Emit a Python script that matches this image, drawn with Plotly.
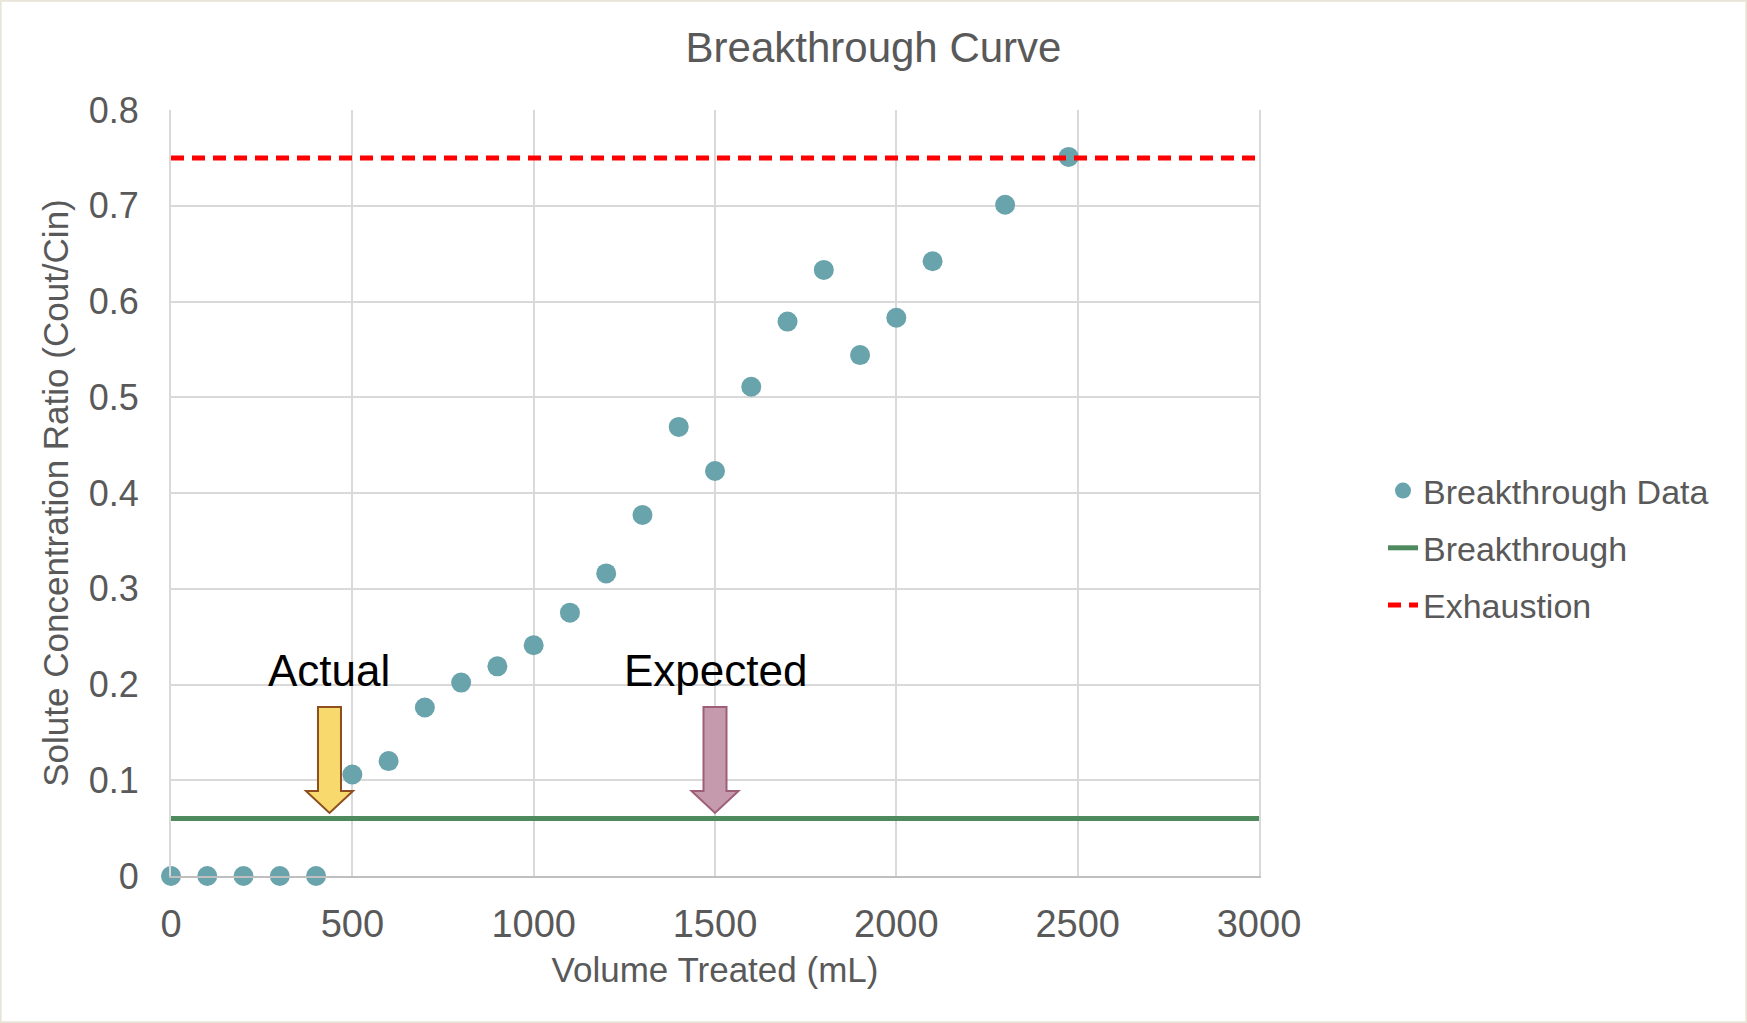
import plotly.graph_objects as go

# ---- data ----
volume_ml = [0, 100, 200, 300, 400, 500, 600, 700, 800, 900, 1000, 1100, 1200,
             1300, 1400, 1500, 1600, 1700, 1800, 1900, 2000, 2100, 2300, 2475]
conc_ratio = [0, 0, 0, 0, 0, 0.106, 0.120, 0.176, 0.202, 0.219, 0.241, 0.275, 0.316,
              0.377, 0.469, 0.423, 0.511, 0.579, 0.633, 0.544, 0.583, 0.642, 0.701, 0.751]
breakthrough_level = 0.06
exhaustion_level = 0.75
line_x = [0, 3000]
arrow_labels = ["Actual", "Expected"]
arrow_x = [437, 1500]
arrow_tip_y = 0.0658
arrow_top_y = 0.1765
label_y = 0.215
arrow_fill = ["#F7D96E", "#C49AAC"]
arrow_edge = ["#8E4E1F", "#9E5E78"]
x_ticks = [0, 500, 1000, 1500, 2000, 2500, 3000]
y_ticks = [0, 0.1, 0.2, 0.3, 0.4, 0.5, 0.6, 0.7, 0.8]

# ---- layout geometry ----
W, H = 1747, 1023
ML, MR, MT, MB = 171, 488, 110, 147
PW, PH = W - ML - MR, H - MT - MB
XMAX, YMAX = 3000, 0.8
dxp = XMAX / PW
dyp = YMAX / PH

FONT = "Liberation Sans, Arial, sans-serif"
GREY = "#595959"

fig = go.Figure()
fig.add_trace(go.Scatter(x=volume_ml, y=conc_ratio, mode="markers", name="Breakthrough Data",
                         marker=dict(size=20, color="#69A3AB"), cliponaxis=False,
                         legendgroup="a"))
fig.add_trace(go.Scatter(x=line_x, y=[breakthrough_level] * 2, mode="lines", name="Breakthrough",
                         line=dict(color="#4E8A5E", width=5), legendgroup="b"))
fig.add_trace(go.Scatter(x=line_x, y=[exhaustion_level] * 2, mode="lines", name="Exhaustion",
                         line=dict(color="#FF0000", width=5, dash="13px,8px"), legendgroup="c"))

shapes = []
annotations = []
sw, hw, hl = 11.5 * dxp, 23.5 * dxp, 22 * dyp
for lab, ax, fc, ec in zip(arrow_labels, arrow_x, arrow_fill, arrow_edge):
    ht = arrow_tip_y + hl
    path = (f"M{ax - sw},{arrow_top_y} L{ax + sw},{arrow_top_y} L{ax + sw},{ht} "
            f"L{ax + hw},{ht} L{ax},{arrow_tip_y} L{ax - hw},{ht} L{ax - sw},{ht} Z")
    shapes.append(dict(type="path", path=path, xref="x", yref="y", fillcolor=fc,
                       line=dict(color=ec, width=2), layer="above"))
    annotations.append(dict(x=ax, y=label_y, xref="x", yref="y", text=lab, showarrow=False,
                            font=dict(family=FONT, size=44, color="#000000"),
                            xanchor="center", yanchor="middle"))

# light outer border of the chart area
shapes.append(dict(type="rect", xref="paper", yref="paper",
                   x0=-ML / PW + 0.0006, x1=(PW + MR) / PW - 0.0006,
                   y0=-MB / PH + 0.001, y1=(PH + MT) / PH - 0.001,
                   line=dict(color="#E8E4D8", width=2), layer="below"))

fig.update_layout(
    width=W, height=H,
    margin=dict(l=ML, r=MR, t=MT, b=MB),
    paper_bgcolor="white", plot_bgcolor="white",
    font=dict(family=FONT, color=GREY, size=34),
    title=dict(text="Breakthrough Curve", x=0.5, xanchor="center",
               y=1 - 47 / H, yanchor="middle", yref="container",
               font=dict(size=42, color=GREY, family=FONT)),
    showlegend=True,
    legend=dict(x=(1383 - ML) / PW, y=(876 - 548) / PH,
                xanchor="left", yanchor="middle", font=dict(size=34, color=GREY, family=FONT),
                traceorder="grouped", tracegroupgap=10, bgcolor="rgba(0,0,0,0)"),
    shapes=shapes,
    annotations=annotations,
)
fig.update_xaxes(range=[0, XMAX], tickvals=x_ticks, ticktext=[str(v) for v in x_ticks],
                 showgrid=True, gridcolor="#D9D9D9", gridwidth=2, zeroline=False,
                 showline=True, linecolor="#BFBFBF", linewidth=2,
                 ticks="outside", ticklen=13, tickcolor="rgba(0,0,0,0)",
                 tickfont=dict(size=38, color=GREY),
                 title=dict(text="Volume Treated (mL)", font=dict(size=35, color=GREY), standoff=14))
fig.update_yaxes(range=[0, YMAX], tickvals=y_ticks, ticktext=[f"{v:g}" for v in y_ticks],
                 showgrid=True, gridcolor="#D9D9D9", gridwidth=2, zeroline=False,
                 showline=True, mirror=True, linecolor="#D9D9D9", linewidth=2,
                 ticks="outside", ticklen=23, tickcolor="rgba(0,0,0,0)",
                 tickfont=dict(size=36, color=GREY),
                 title=dict(text="Solute Concentration Ratio (Cout/Cin)", font=dict(size=35, color=GREY),
                            standoff=10))

fig.write_html("out.html")
